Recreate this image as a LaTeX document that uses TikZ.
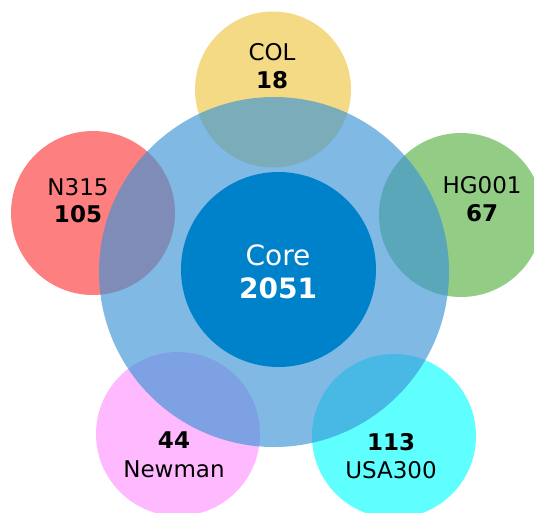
\documentclass[tikz,border=0pt]{standalone}
\usepackage{fontspec}
\setmainfont{DejaVu Sans}
\definecolor{colY}{HTML}{F4DA85}
\definecolor{hgG}{HTML}{93CC85}
\definecolor{nR}{HTML}{FE7F7F}
\definecolor{nwP}{HTML}{FFBAFF}
\definecolor{usC}{HTML}{60FFFF}
\definecolor{bigB}{HTML}{3A94D6}
\definecolor{coreB}{HTML}{0082CB}
\begin{document}
\begin{tikzpicture}[x=1pt,y=-1pt,
  sat/.style={circle,draw=none,inner sep=0pt},
  lbl/.style={font=\fontsize{23}{27}\selectfont,text=black,inner sep=0pt},
  num/.style={font=\fontsize{23}{27}\selectfont\bfseries,text=black,inner sep=0pt}]
\useasboundingbox (0,0) rectangle (534,512);
\begin{scope}
\clip (0,0) rectangle (534,512);
\node[sat,fill=colY,minimum size=156pt] (col) at (273,89.5) {};
\node[sat,fill=hgG,minimum size=164pt] (hg) at (461,215) {};
\node[sat,fill=nR,minimum size=164pt] (n315) at (93,213) {};
\node[sat,fill=nwP,minimum size=164pt] (newman) at (178,434) {};
\node[sat,fill=usC,minimum size=164pt] (usa) at (394,436) {};
\node[sat,fill=bigB,fill opacity=0.65,minimum size=350pt] (big) at (274,272) {};
\node[sat,fill=coreB,minimum size=195pt] (core) at (278.5,269.5) {};
\end{scope}
\node[lbl,text=white,font=\fontsize{28}{32}\selectfont] (coret) at (278,255) {Core};
\node[num,text=white,font=\fontsize{28}{32}\selectfont\bfseries] (coren) at (278,288) {2051};
\node[lbl] (colt) at (272,52) {COL};
\node[num] (coln) at (272,80) {18};
\node[lbl] (hgt) at (482,185) {HG001};
\node[num] (hgn) at (482,213) {67};
\node[lbl] (nt) at (78,187) {N315};
\node[num] (nn) at (78,214) {105};
\node[num] (nwn) at (174,440) {44};
\node[lbl] (nwt) at (174,469) {Newman};
\node[num] (usn) at (391,442) {113};
\node[lbl] (ust) at (391,470) {USA300};
\end{tikzpicture}
\end{document}
